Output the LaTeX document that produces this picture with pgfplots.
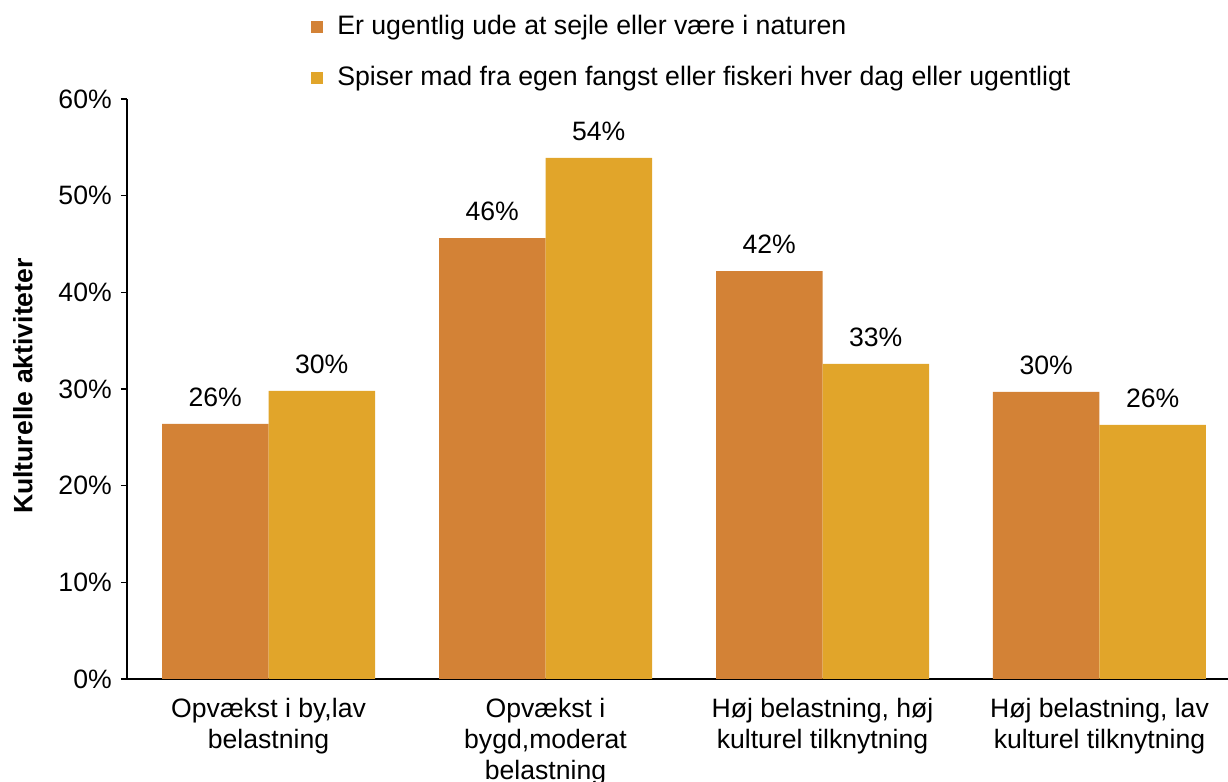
\documentclass[border=0pt]{standalone}
\usepackage{fontspec}
\setmainfont{Liberation Sans}
\usepackage{pgfplots}
\pgfplotsset{compat=1.18}
\definecolor{cA}{HTML}{D38236}
\definecolor{cB}{HTML}{E1A52A}
\begin{document}
\fontsize{13.3bp}{15.5bp}\selectfont
\begin{tikzpicture}
\useasboundingbox (0,0) rectangle (614bp,391bp);
\begin{axis}[
  at={(63.5bp,51.5bp)}, anchor=south west,
  scale only axis, width=550.5bp, height=290bp,
  xmin=-0.511, xmax=3.464, ymin=0, ymax=60,
  axis x line*=bottom, axis y line*=left,
  axis line style={line width=0.8bp, black},
  ytick={0,10,...,60},
  yticklabel={\pgfmathprintnumber{\tick}\%},
  /pgf/number format/assume math mode=true,
  tick align=outside, major tick length=3bp,
  ytick style={line width=0.7bp, black},
  xtick={0,1,2,3},
  xticklabels={{Opvækst i by,lav\\belastning},{Opvækst i\\bygd,moderat\\belastning},{Høj belastning, høj\\kulturel tilknytning},{Høj belastning, lav\\kulturel tilknytning}},
  x tick style={draw=none},
  xticklabel style={align=center, font=\fontsize{13.3bp}{15.5bp}\selectfont, yshift=-2bp},
  yticklabel style={font=\fontsize{13.3bp}{15.5bp}\selectfont},
  ylabel={\bfseries Kulturelle aktiviteter},
  ylabel style={at={(axis description cs:-0.0945,0.505)}, anchor=center, rotate=0, font=\fontsize{13.3bp}{15.5bp}\selectfont},
  ybar, bar width=0.3845,
  nodes near coords={\pgfmathprintnumber[fixed,precision=0]{\pgfplotspointmeta}\%},
  nodes near coords style={font=\fontsize{13.3bp}{15.5bp}\selectfont, inner sep=0pt, anchor=south, yshift=8.5bp},
  legend style={at={(axis description cs:0.167,1.148)}, anchor=north west, draw=none, fill=none,
    font=\fontsize{13.35bp}{15.5bp}\selectfont, row sep=11.5bp, inner sep=0pt,
    nodes={inner sep=1bp}},
  legend cell align=left,
  legend image code/.code={\fill[#1] (0bp,-3bp) rectangle (6bp,3bp); \path (12bp,0bp);},
]
\addplot[fill=cA, draw=none, bar shift=-0.19225] coordinates {(0,26.4) (1,45.6) (2,42.2) (3,29.7)};
\addlegendentry{Er ugentlig ude at sejle eller være i naturen}
\addplot[fill=cB, draw=none, bar shift=0.19225] coordinates {(0,29.8) (1,53.9) (2,32.6) (3,26.3)};
\addlegendentry{Spiser mad fra egen fangst eller fiskeri hver dag eller ugentligt}
\end{axis}
\end{tikzpicture}
\end{document}
